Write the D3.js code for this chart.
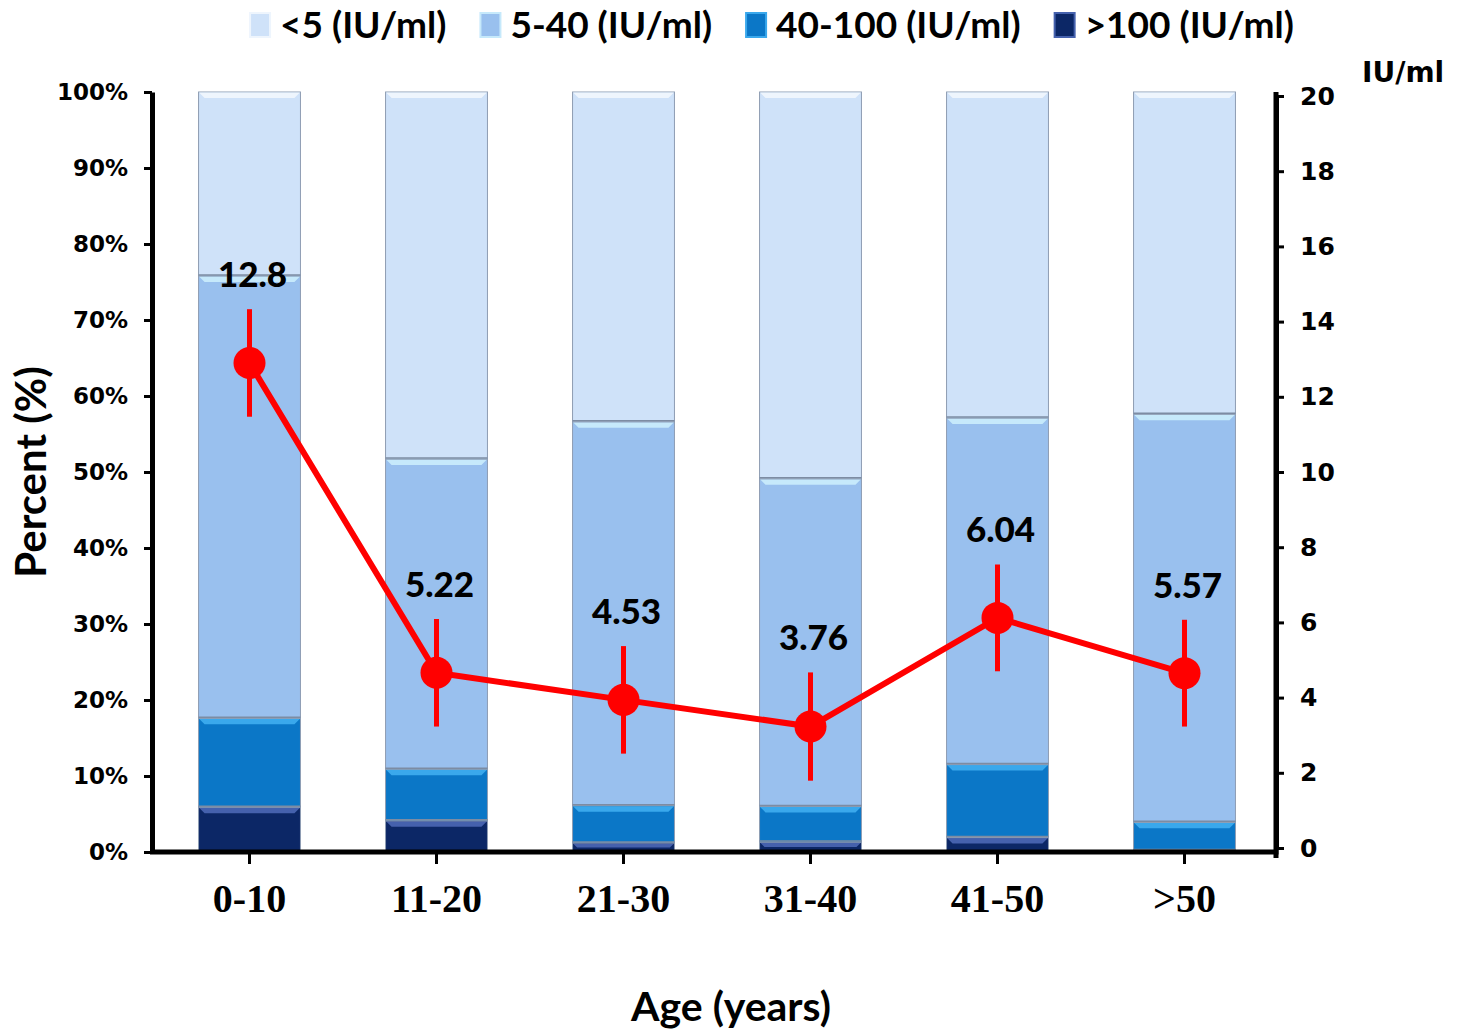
<!DOCTYPE html>
<html>
<head>
<meta charset="utf-8">
<script src="https://cdn.jsdelivr.net/npm/d3@7"></script>
<style>
  body { margin: 0; background: #fff; }
</style>
</head>
<body>
<div class="canvas"></div>
<script>
'use strict';

// data
const ageGroups = ['0-10', '11-20', '21-30', '31-40', '41-50', '>50'];
const levelKeys = ['under5', 'low', 'mid', 'over100'];
const levelNames = ['<5 (IU/ml)', '5-40 (IU/ml)', '40-100 (IU/ml)', '>100 (IU/ml)'];
const under5 = [24.2, 48.3, 43.4, 50.9, 42.9, 42.4];
const from5to40 = [58.2, 40.8, 50.5, 43.1, 45.6, 53.7];
const from40to100 = [11.7, 6.8, 4.9, 4.7, 9.6, 3.7];
const over100 = [5.9, 4.1, 1.2, 1.3, 1.9, 0.2];
const meanTiter = [12.9, 4.66, 3.94, 3.23, 6.12, 4.65];
const meanError = [1.43, 1.43, 1.43, 1.44, 1.42, 1.42];
const meanLabels = ['12.8', '5.22', '4.53', '3.76', '6.04', '5.57'];
const percentTicks = [0, 10, 20, 30, 40, 50, 60, 70, 80, 90, 100];
const titerTicks = [0, 2, 4, 6, 8, 10, 12, 14, 16, 18, 20];

const colors = { under5: '#cfe2f9', low: '#99c0ee', mid: '#0b77c7', over100: '#0c2766' };
const bevels = { under5: '#eef5fd', low: '#c6e9fb', mid: '#3aa8ec', over100: '#4561ad' };

const svg = d3
  .select('.canvas')
  .append('svg')
  .attr('width', 1466)
  .attr('height', 1029);

const x = d3
  .scaleBand()
  .domain(ageGroups)
  .range([156, 1278])
  .paddingInner(0.455)
  .paddingOuter(0.2275);
const y = d3.scaleLinear().domain([0, 100]).range([852, 92]);
const y2 = d3.scaleLinear().domain([0, 20]).range([848, 96]);

const rows = ageGroups.map((age, i) => ({
  age,
  under5: under5[i],
  low: from5to40[i],
  mid: from40to100[i],
  over100: over100[i],
  mean: meanTiter[i],
  err: meanError[i],
  label: meanLabels[i]
}));

// stacked bars, bottom to top: >100, 40-100, 5-40, <5
const stack = d3.stack().keys(['over100', 'mid', 'low', 'under5'])(rows);
const bw = x.bandwidth();

const layers = svg
  .append('g')
  .selectAll('g')
  .data(stack)
  .enter()
  .append('g');

layers.each(function (layer) {
  const g = d3.select(this);
  const key = layer.key;
  layer.forEach(d => {
    const x0 = x(d.data.age);
    const yTop = y(d[1]);
    const h = y(d[0]) - yTop;
    if (h <= 0) return;
    g.append('rect')
      .attr('x', x0)
      .attr('y', yTop)
      .attr('width', bw)
      .attr('height', h)
      .attr('fill', colors[key])
      .attr('stroke', '#8e9db3')
      .attr('stroke-width', 1);
    const b = Math.min(6, h / 2);
    g.append('polygon')
      .attr('points', [
        [x0 + 0.5, yTop + 0.5],
        [x0 + bw - 0.5, yTop + 0.5],
        [x0 + bw - b, yTop + b],
        [x0 + b, yTop + b]
      ].map(p => p.join(',')).join(' '))
      .attr('fill', bevels[key]);
    if (d[0] > 0) {
      g.append('line')
        .attr('x1', x0)
        .attr('x2', x0 + bw)
        .attr('y1', y(d[0]) - 1)
        .attr('y2', y(d[0]) - 1)
        .attr('stroke', '#7d8ca3')
        .attr('stroke-width', 1.5);
    }
  });
});

// axes
const leftAxis = svg
  .append('g')
  .attr('transform', 'translate(152,0)')
  .call(
    d3.axisLeft(y)
      .tickValues(percentTicks)
      .tickFormat(d => d + '%')
      .tickSize(8)
      .tickSizeOuter(0)
      .tickPadding(16)
  );

const rightAxis = svg
  .append('g')
  .attr('transform', 'translate(1276,0)')
  .call(
    d3.axisRight(y2)
      .tickValues(titerTicks)
      .tickSize(8)
      .tickSizeOuter(0)
      .tickPadding(16)
  );

const bottomAxis = svg
  .append('g')
  .attr('transform', 'translate(0,852)')
  .call(d3.axisBottom(x).tickSize(12).tickSizeOuter(0).tickPadding(20));

[leftAxis, rightAxis, bottomAxis].forEach(a => {
  a.selectAll('.tick line').attr('stroke', '#000').attr('stroke-width', 3);
  a.select('.domain').attr('stroke', '#000').attr('stroke-width', 5);
});
bottomAxis.select('.domain').remove();

svg.append('line')
  .attr('x1', 150).attr('x2', 1278.5)
  .attr('y1', 852).attr('y2', 852)
  .attr('stroke', '#000').attr('stroke-width', 5);
svg.append('line')
  .attr('x1', 1276).attr('x2', 1276)
  .attr('y1', 92).attr('y2', 858)
  .attr('stroke', '#000').attr('stroke-width', 5);

leftAxis.selectAll('.tick text')
  .style('font-family', 'DejaVu Sans')
  .style('font-weight', 'bold')
  .style('font-size', '23px')
  .attr('fill', '#000');
rightAxis.selectAll('.tick text')
  .style('font-family', 'DejaVu Sans')
  .style('font-weight', 'bold')
  .style('font-size', '25px')
  .attr('fill', '#000');
bottomAxis.selectAll('.tick text')
  .style('font-family', 'Liberation Serif')
  .style('font-weight', 'bold')
  .style('font-size', '40px')
  .attr('fill', '#000');

// mean titer line with error bars
const cx = d => x(d.age) + bw / 2;
const line = d3.line().x(cx).y(d => y2(d.mean));

svg.append('path')
  .datum(rows)
  .attr('d', line)
  .attr('fill', 'none')
  .attr('stroke', '#ff0000')
  .attr('stroke-width', 6);

svg.append('g')
  .selectAll('line')
  .data(rows)
  .enter()
  .append('line')
  .attr('x1', cx)
  .attr('x2', cx)
  .attr('y1', d => y2(d.mean + d.err))
  .attr('y2', d => y2(d.mean - d.err))
  .attr('stroke', '#ff0000')
  .attr('stroke-width', 5);

svg.append('g')
  .selectAll('circle')
  .data(rows)
  .enter()
  .append('circle')
  .attr('cx', cx)
  .attr('cy', d => y2(d.mean))
  .attr('r', 16)
  .attr('fill', '#ff0000');

svg.append('g')
  .selectAll('text')
  .data(rows)
  .enter()
  .append('text')
  .attr('x', d => cx(d) + 3)
  .attr('y', d => y2(d.mean + d.err) - 22)
  .attr('text-anchor', 'middle')
  .style('font-family', 'Lato')
  .style('font-weight', '900')
  .style('font-size', '35px')
  .attr('fill', '#000')
  .text(d => d.label);

// titles
svg.append('text')
  .attr('transform', 'translate(30,472) rotate(-90)')
  .attr('text-anchor', 'middle')
  .attr('dominant-baseline', 'central')
  .style('font-family', 'Lato')
  .style('font-weight', 'bold')
  .style('font-size', '42px')
  .text('Percent (%)');

svg.append('text')
  .attr('x', 731)
  .attr('y', 1005)
  .attr('text-anchor', 'middle')
  .attr('dominant-baseline', 'central')
  .style('font-family', 'Lato')
  .style('font-weight', 'bold')
  .style('font-size', '41px')
  .text('Age (years)');

svg.append('text')
  .attr('x', 1362)
  .attr('y', 82)
  .style('font-family', 'DejaVu Sans')
  .style('font-weight', 'bold')
  .style('font-size', '28px')
  .text('IU/ml');

// legend
const legend = svg.append('g');
const items = legend
  .selectAll('g')
  .data(levelKeys)
  .enter()
  .append('g');

items.append('rect')
  .attr('y', 13)
  .attr('width', 20)
  .attr('height', 24)
  .attr('fill', d => colors[d])
  .attr('stroke', d => bevels[d])
  .attr('stroke-width', 2);

items.append('text')
  .attr('x', 30)
  .attr('y', 38)
  .style('font-family', 'Lato')
  .style('font-weight', 'bold')
  .style('font-size', '37px')
  .text((d, i) => levelNames[i]);

let offset = 0;
const widths = [];
items.each(function () {
  const w = 30 + d3.select(this).select('text').node().getComputedTextLength();
  widths.push(w);
});
const total = d3.sum(widths) + 34 * (widths.length - 1);
offset = 772 - total / 2;
items.attr('transform', (d, i) => {
  const t = `translate(${offset},0)`;
  offset += widths[i] + 34;
  return t;
});
</script>
</body>
</html>
